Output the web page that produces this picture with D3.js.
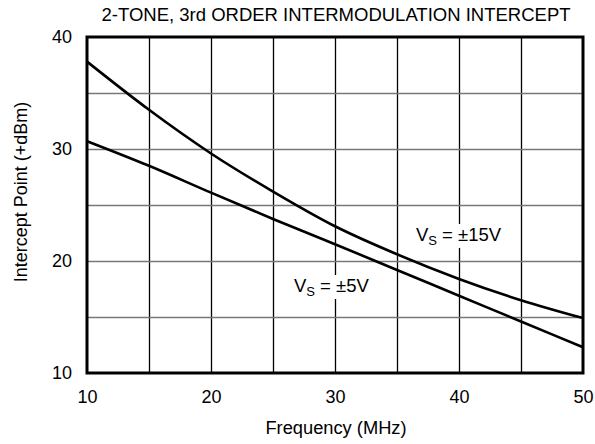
<!DOCTYPE html>
<html>
<head>
<meta charset="utf-8">
<script src="https://cdn.jsdelivr.net/npm/d3@7"></script>
<style>
  body { margin: 0; background: #fff; }
  svg { display: block; font-family: "Liberation Sans", Arial, sans-serif; }
  .grid .domain { display: none; }
  .xgrid line { stroke: #000; stroke-width: 1.3; }
  .ygrid line { stroke: #777; stroke-width: 1.3; }
  .curve { fill: none; stroke: #000; stroke-width: 2.6; }
  .ticks .domain { display: none; }
  .ticks text { font-size: 18px; fill: #000; }
</style>
</head>
<body>
<svg width="595" height="444"></svg>
<script>
(function (window) {

  // frequency in MHz
  var freqs = [10, 15, 20, 25, 30, 35, 40, 45, 50];
  // intercept point (+dBm)
  var vs15 = [37.8, 33.5, 29.6, 26.2, 23.1, 20.6, 18.4, 16.5, 14.9];
  var vs5  = [30.7, 28.5, 26.1, 23.75, 21.5, 19.2, 16.9, 14.6, 12.3];

  var xTicks = [10, 20, 30, 40, 50];
  var yTicks = [10, 20, 30, 40];
  var xGrid = [15, 20, 25, 30, 35, 40, 45];
  var yGrid = [15, 20, 25, 30, 35];

  var labels = [
    { f: 36.53, db: 21.79, text: " = \u00b115V" },
    { f: 26.69, db: 17.23, text: " = \u00b15V" }
  ];

  var chart = {
    draw: function () {
      let svg = d3.select("svg"),
          margin = { top: 37, right: 12, bottom: 71, left: 87 },
          width = +svg.attr("width") - margin.left - margin.right,
          height = +svg.attr("height") - margin.top - margin.bottom;

      let x = d3.scaleLinear().domain([10, 50]).range([0, width]),
          y = d3.scaleLinear().domain([10, 40]).range([height, 0]);

      let g = svg.append("g")
        .attr("transform", `translate(${margin.left},${margin.top})`);

      g.append("g")
        .attr("class", "grid xgrid")
        .attr("transform", `translate(0,${height})`)
        .call(d3.axisBottom(x).tickValues(xGrid).tickSize(-height).tickFormat(""));

      g.append("g")
        .attr("class", "grid ygrid")
        .call(d3.axisLeft(y).tickValues(yGrid).tickSize(-width).tickFormat(""));

      // curve labels, white boxes break the grid
      labels.forEach(function (l) {
        let lg = g.append("g");
        let t = lg.append("text")
          .attr("x", x(l.f))
          .attr("y", y(l.db))
          .style("font-size", "18.5px")
          .style("white-space", "pre");
        t.append("tspan").text("V");
        t.append("tspan").attr("dy", 4).style("font-size", "13px").text("S");
        t.append("tspan").attr("dy", -4).text(l.text);
        let b = t.node().getBBox();
        lg.insert("rect", "text")
          .attr("x", b.x - 2)
          .attr("y", b.y)
          .attr("width", b.width + 4)
          .attr("height", b.height)
          .attr("fill", "#fff");
      });

      let line = d3.line()
        .x(function (d) { return x(d[0]); })
        .y(function (d) { return y(d[1]); })
        .curve(d3.curveMonotoneX);

      [vs15, vs5].forEach(function (s) {
        g.append("path")
          .attr("class", "curve")
          .attr("d", line(freqs.map(function (f, i) { return [f, s[i]]; })));
      });

      g.append("rect")
        .attr("width", width)
        .attr("height", height)
        .attr("fill", "none")
        .attr("stroke", "#000")
        .attr("stroke-width", 3);

      g.append("g")
        .attr("class", "ticks")
        .attr("transform", `translate(0,${height})`)
        .call(d3.axisBottom(x).tickValues(xTicks).tickSize(0).tickPadding(17).tickFormat(d3.format("d")));

      g.append("g")
        .attr("class", "ticks")
        .call(d3.axisLeft(y).tickValues(yTicks).tickSize(0).tickPadding(15).tickFormat(d3.format("d")));

      svg.append("text")
        .attr("x", margin.left + width / 2 + 1)
        .attr("y", 21)
        .attr("text-anchor", "middle")
        .style("font-size", "18.5px")
        .text("2-TONE, 3rd ORDER INTERMODULATION INTERCEPT");

      svg.append("text")
        .attr("x", margin.left + width / 2 + 1)
        .attr("y", 434)
        .attr("text-anchor", "middle")
        .style("font-size", "18.3px")
        .text("Frequency (MHz)");

      svg.append("text")
        .attr("transform", "translate(27,192) rotate(-90)")
        .attr("text-anchor", "middle")
        .style("font-size", "18px")
        .text("Intercept Point (+dBm)");
    }
  };

  window.chart = chart;
  chart.draw();

})(window);
</script>
</body>
</html>
